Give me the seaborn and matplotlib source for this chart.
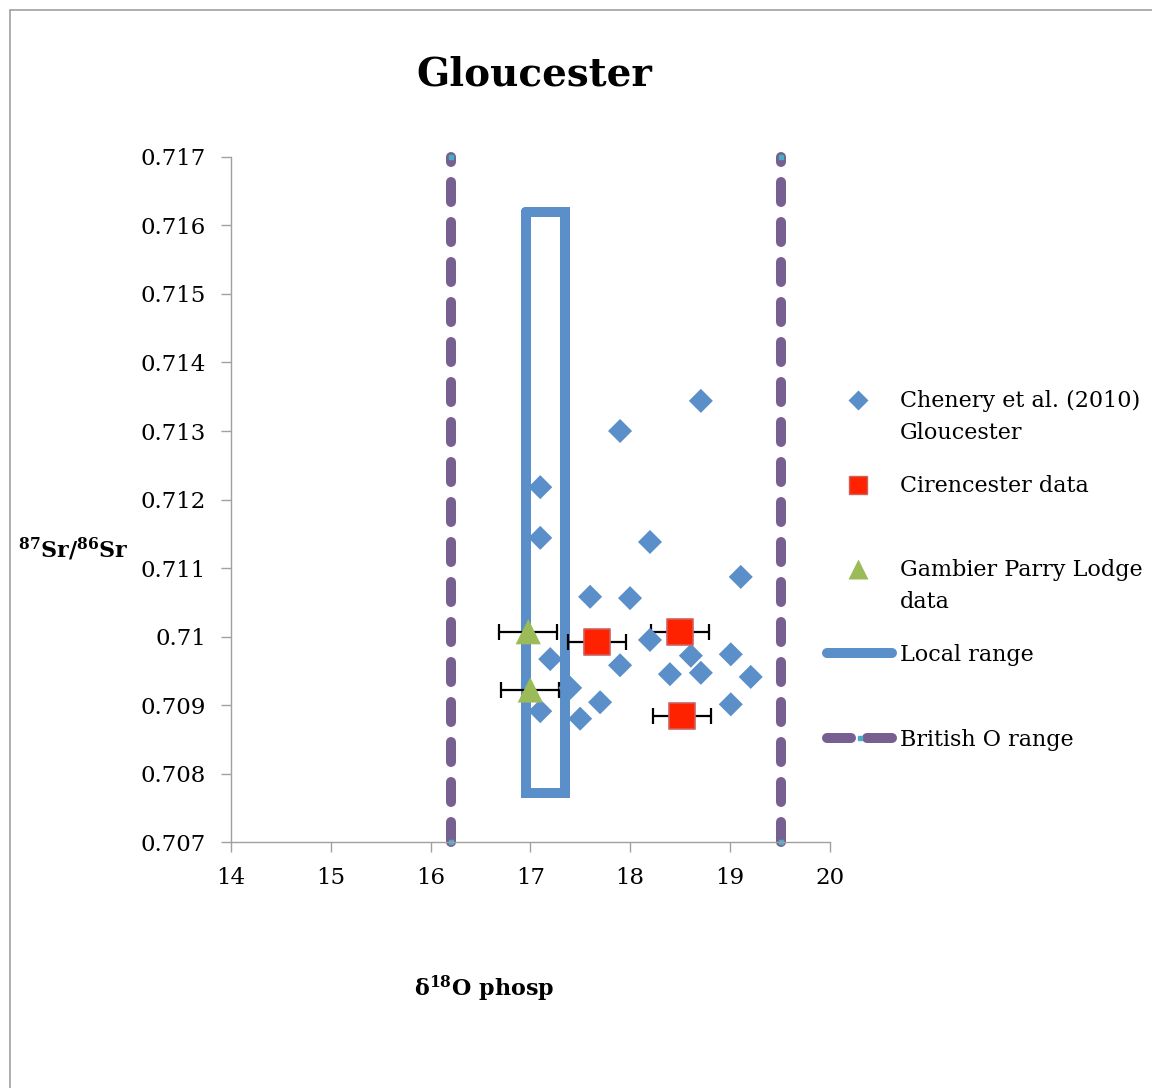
import matplotlib
matplotlib.use("Agg")
import matplotlib.pyplot as plt
import seaborn as sns
import pandas as pd
from matplotlib.lines import Line2D
from matplotlib.ticker import FuncFormatter

# Chenery et al. (2010) Gloucester
chen_o = [18.71, 17.90, 17.10, 17.10, 18.20, 19.11, 17.60, 18.00, 18.20, 17.20, 17.90,
          18.61, 19.01, 18.40, 18.71, 19.21, 17.40, 17.10, 17.70, 17.50, 19.01]
chen_sr = [0.71344, 0.71300, 0.71218, 0.71144, 0.71138, 0.71087, 0.71058, 0.71056,
           0.70995, 0.70967, 0.70958, 0.70972, 0.70974, 0.70945, 0.70947, 0.70941,
           0.70925, 0.70891, 0.70904, 0.70880, 0.70901]

# Cirencester data
cir_o = [17.67, 18.50, 18.52]
cir_sr = [0.70992, 0.71007, 0.70884]
cir_err = [0.29, 0.29, 0.29]

# Gambier Parry Lodge data
gpl_o = [16.98, 17.00]
gpl_sr = [0.71007, 0.70922]
gpl_err = [0.29, 0.29]

# Local range box
local_o = [16.96, 17.35, 17.35, 16.96, 16.96]
local_sr = [0.71620, 0.71620, 0.70772, 0.70772, 0.71620]

# British O range
brit_lo = 16.21
brit_hi = 19.51
brit_sr = [0.707, 0.717]

sns.set_style("white")
plt.rcParams['font.family'] = ['DejaVu Serif']
plt.rcParams['text.color'] = 'black'
plt.rcParams['xtick.color'] = 'black'
plt.rcParams['ytick.color'] = 'black'
plt.rcParams['mathtext.fontset'] = 'custom'
plt.rcParams['mathtext.rm'] = 'DejaVu Serif'
plt.rcParams['mathtext.bf'] = 'DejaVu Serif:bold'
plt.rcParams['mathtext.default'] = 'bf'

fig = plt.figure(figsize=(11.52, 10.88), dpi=100)
ax = fig.add_axes([0.2005, 0.2261, 0.5196, 0.6296])

purple = '#775f92'
blue = '#5b8fc9'
red = '#ff2200'
green = '#9bbb59'
cyan = '#4bacc6'

# british O range dashed lines
for xv in [brit_lo, brit_hi]:
    ax.plot([xv, xv], brit_sr, color=purple, lw=7.2, dashes=(2, 2),
            dash_capstyle='round', zorder=2, clip_on=False)
    ax.plot([xv, xv], brit_sr, ls='none', marker='s', ms=2.5, color=cyan,
            zorder=2, clip_on=False)

# local range
ax.plot(local_o, local_sr, color=blue, lw=7.2, solid_joinstyle='miter', zorder=2)

chen = pd.DataFrame({'o': chen_o, 'sr': chen_sr})
sns.scatterplot(data=chen, x='o', y='sr', marker='D', s=150, color=blue,
                edgecolor='none', ax=ax, zorder=4)

ax.errorbar(cir_o, cir_sr, xerr=cir_err, fmt='none', ecolor='black', elinewidth=1.6,
            capsize=5.5, capthick=1.6, zorder=3)
ax.errorbar(gpl_o, gpl_sr, xerr=gpl_err, fmt='none', ecolor='black', elinewidth=1.6,
            capsize=5.5, capthick=1.6, zorder=3)

cir = pd.DataFrame({'o': cir_o, 'sr': cir_sr})
sns.scatterplot(data=cir, x='o', y='sr', marker='s', s=340, color=red,
                edgecolor='#d06060', linewidth=1.2, ax=ax, zorder=5)
gpl = pd.DataFrame({'o': gpl_o, 'sr': gpl_sr})
sns.scatterplot(data=gpl, x='o', y='sr', marker='^', s=330, color=green,
                edgecolor='none', ax=ax, zorder=5)

ax.set_xlim(14, 20)
ax.set_ylim(0.707, 0.717)
ax.set_xticks(range(14, 21))
ax.set_yticks([0.707 + 0.001 * i for i in range(11)])
ax.yaxis.set_major_formatter(FuncFormatter(lambda v, p: f'{round(v, 3):g}'))
ax.tick_params(axis='both', labelsize=16.5, direction='out', length=7, width=1,
               color='#a0a0a0', labelcolor='black', left=True, bottom=True, pad=11)
for s in ['top', 'right']:
    ax.spines[s].set_visible(False)
for s in ['left', 'bottom']:
    ax.spines[s].set_color('#a0a0a0')
    ax.spines[s].set_linewidth(1)
ax.set_xlabel('')
ax.set_ylabel('')

W, H = 1152.0, 1088.0


def fx(px):
    return px / W


def fy(py):
    return 1 - py / H


fig.text(fx(534), fy(75), 'Gloucester', ha='center', va='center', fontsize=28,
         fontweight='bold')
fig.text(fx(18), fy(549), r'$^{87}$Sr/$^{86}$Sr', ha='left', va='center',
         fontsize=16, fontweight='bold')
fig.text(fx(484), fy(989), r'δ$^{18}$O phosp', ha='center', va='center',
         fontsize=16, fontweight='bold')

# legend drawn by hand so markers line up with the first text line
leg_fs = 16
tr = fig.transFigure
fig.add_artist(Line2D([fx(858)], [fy(400)], ls='none', marker='D', ms=10, color=blue,
                      mec='none', transform=tr))
fig.add_artist(Line2D([fx(858)], [fy(485)], ls='none', marker='s', ms=13, color=red,
                      mec='#d06060', transform=tr))
fig.add_artist(Line2D([fx(858)], [fy(569)], ls='none', marker='^', ms=14, color=green,
                      mec='none', transform=tr))
fig.add_artist(Line2D([fx(827), fx(892)], [fy(653), fy(653)], color=blue, lw=7.2,
                      solid_capstyle='round', transform=tr))
fig.add_artist(Line2D([fx(827), fx(851)], [fy(738), fy(738)], color=purple, lw=7.2,
                      solid_capstyle='round', transform=tr))
fig.add_artist(Line2D([fx(867), fx(892)], [fy(738), fy(738)], color=purple, lw=7.2,
                      solid_capstyle='round', transform=tr))
fig.add_artist(Line2D([fx(860)], [fy(738)], ls='none', marker='s', ms=2.5, color=cyan,
                      transform=tr))

leg_items = [('Chenery et al. (2010)', 401), ('Gloucester', 433),
             ('Cirencester data', 486), ('Gambier Parry Lodge', 570),
             ('data', 602), ('Local range', 655), ('British O range', 740)]
for txt, py in leg_items:
    fig.text(fx(900), fy(py), txt, ha='left', va='center', fontsize=leg_fs)

# outer chart border
fig.add_artist(Line2D([0.0087, 0.0087], [0, 0.9908], color='#a0a0a0', lw=1.2))
fig.add_artist(Line2D([0.0087, 1], [0.9908, 0.9908], color='#a0a0a0', lw=1.2))

fig.savefig('out.png', dpi=100)
